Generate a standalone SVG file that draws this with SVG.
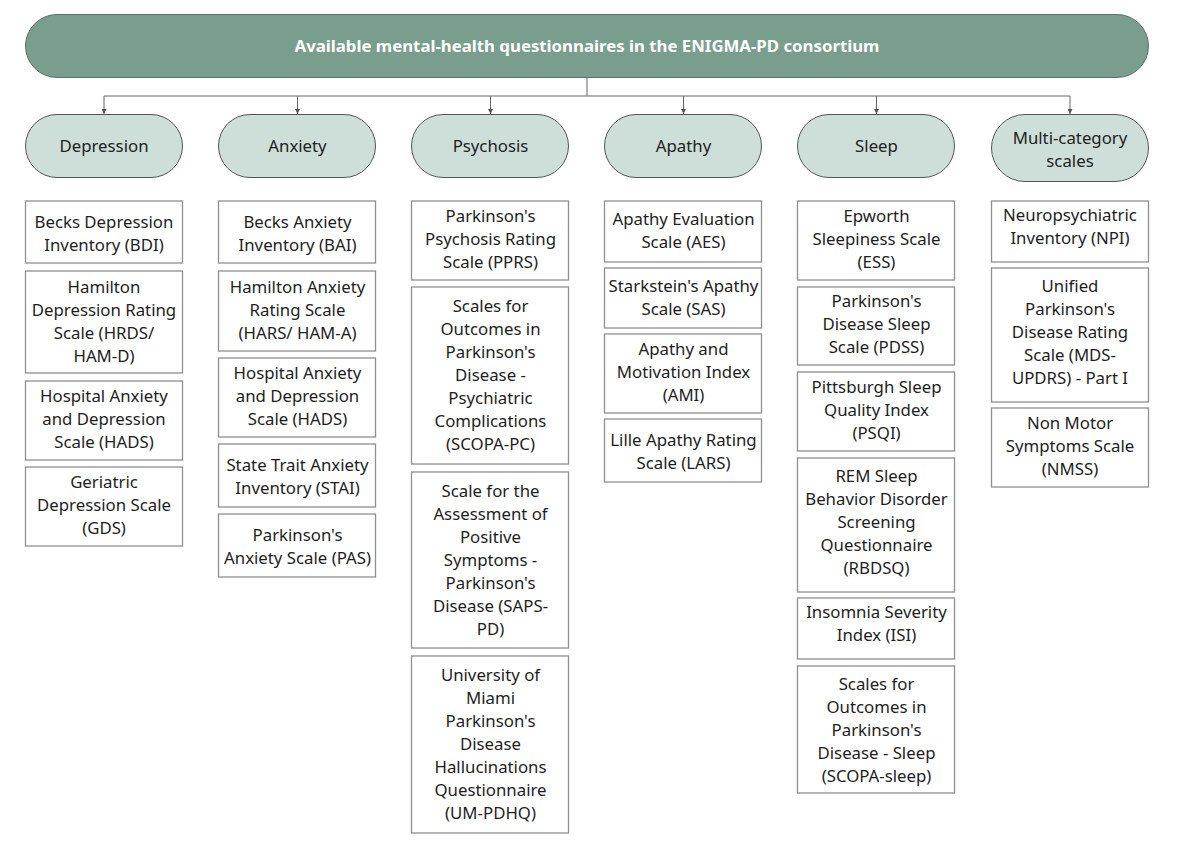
<svg xmlns="http://www.w3.org/2000/svg" width="1183" height="845" viewBox="0 0 1183 845">
  <defs>
    <marker id="arrow" viewBox="0 0 10 10" refX="10" refY="5" markerWidth="5" markerHeight="5" orient="auto" markerUnits="userSpaceOnUse">
      <path d="M0,0 L10,5 L0,10 z" fill="#555"/>
    </marker>
    <style>
      .title { fill: #7a9e8e; stroke: #5f6f68; stroke-width: 1; }
      .title-text { font-family: "Noto Sans", "Open Sans", sans-serif; font-size: 16.8px; font-weight: bold; fill: #ffffff; text-anchor: middle; }
      .cat { fill: #cddfd8; stroke: #555; stroke-width: 1; }
      .cat-text { font-family: "Noto Sans", "Open Sans", sans-serif; font-size: 16.8px; fill: #222; text-anchor: middle; }
      .item { fill: #ffffff; stroke: #8f8f8f; stroke-width: 1.3; }
      .item-text { font-family: "Noto Sans", "Open Sans", sans-serif; font-size: 16.8px; fill: #1e1e1e; text-anchor: middle; }
      .link { fill: none; stroke: #666; stroke-width: 1; }
    </style>
  </defs>
  <rect width="1183" height="845" fill="#ffffff"/>

  <!-- root -->
  <g id="root">
    <rect class="title" x="25.5" y="14.5" width="1123" height="63" rx="31.5" ry="31.5"/>
    <text class="title-text" x="587" y="52">Available mental-health questionnaires in the ENIGMA-PD consortium</text>
  </g>

  <!-- connectors from root to categories -->
  <g id="connectors">
    <path class="link" d="M587,77.5 V96 M104,96 H1070"/>
    <path class="link" d="M104,96 V114" marker-end="url(#arrow)"/>
    <path class="link" d="M297.5,96 V114" marker-end="url(#arrow)"/>
    <path class="link" d="M490.5,96 V114" marker-end="url(#arrow)"/>
    <path class="link" d="M683.5,96 V114" marker-end="url(#arrow)"/>
    <path class="link" d="M876.5,96 V114" marker-end="url(#arrow)"/>
    <path class="link" d="M1070,96 V114" marker-end="url(#arrow)"/>
  </g>

  <!-- categories -->
  <g id="cat-depression">
    <rect class="cat" x="25.5" y="114.5" width="157" height="63" rx="31.5"/>
    <text class="cat-text" x="104" y="152">Depression</text>
  </g>
  <g id="cat-anxiety">
    <rect class="cat" x="218.5" y="114.5" width="157" height="63" rx="31.5"/>
    <text class="cat-text" x="297.5" y="152">Anxiety</text>
  </g>
  <g id="cat-psychosis">
    <rect class="cat" x="411.5" y="114.5" width="157" height="63" rx="31.5"/>
    <text class="cat-text" x="490.5" y="152">Psychosis</text>
  </g>
  <g id="cat-apathy">
    <rect class="cat" x="604.5" y="114.5" width="157" height="63" rx="31.5"/>
    <text class="cat-text" x="683.5" y="152">Apathy</text>
  </g>
  <g id="cat-sleep">
    <rect class="cat" x="797.5" y="114.5" width="157" height="63" rx="31.5"/>
    <text class="cat-text" x="876.5" y="152">Sleep</text>
  </g>
  <g id="cat-multi">
    <rect class="cat" x="991.5" y="114.5" width="157" height="67" rx="33.5"/>
    <text class="cat-text" x="1070" y="144">Multi-category</text>
    <text class="cat-text" x="1070" y="167">scales</text>
  </g>

  <!-- Depression column -->
  <g id="bdi">
    <rect class="item" x="25.5" y="201" width="157" height="62"/>
    <text class="item-text" x="104" y="228">Becks Depression</text>
    <text class="item-text" x="104" y="251">Inventory (BDI)</text>
  </g>
  <g id="hrds">
    <rect class="item" x="25.5" y="271" width="157" height="102"/>
    <text class="item-text" x="104" y="293">Hamilton</text>
    <text class="item-text" x="104" y="316">Depression Rating</text>
    <text class="item-text" x="104" y="339">Scale (HRDS/</text>
    <text class="item-text" x="104" y="362">HAM-D)</text>
  </g>
  <g id="hads-dep">
    <rect class="item" x="25.5" y="381" width="157" height="79"/>
    <text class="item-text" x="104" y="402">Hospital Anxiety</text>
    <text class="item-text" x="104" y="425">and Depression</text>
    <text class="item-text" x="104" y="448">Scale (HADS)</text>
  </g>
  <g id="gds">
    <rect class="item" x="25.5" y="467" width="157" height="79"/>
    <text class="item-text" x="104" y="488">Geriatric</text>
    <text class="item-text" x="104" y="511">Depression Scale</text>
    <text class="item-text" x="104" y="534">(GDS)</text>
  </g>

  <!-- Anxiety column -->
  <g id="bai">
    <rect class="item" x="218.5" y="201" width="157" height="62"/>
    <text class="item-text" x="297.5" y="228">Becks Anxiety</text>
    <text class="item-text" x="297.5" y="251">Inventory (BAI)</text>
  </g>
  <g id="hars">
    <rect class="item" x="218.5" y="271" width="157" height="80"/>
    <text class="item-text" x="297.5" y="293">Hamilton Anxiety</text>
    <text class="item-text" x="297.5" y="316">Rating Scale</text>
    <text class="item-text" x="297.5" y="339">(HARS/ HAM-A)</text>
  </g>
  <g id="hads-anx">
    <rect class="item" x="218.5" y="358" width="157" height="79"/>
    <text class="item-text" x="297.5" y="379">Hospital Anxiety</text>
    <text class="item-text" x="297.5" y="402">and Depression</text>
    <text class="item-text" x="297.5" y="425">Scale (HADS)</text>
  </g>
  <g id="stai">
    <rect class="item" x="218.5" y="444" width="157" height="63"/>
    <text class="item-text" x="297.5" y="471">State Trait Anxiety</text>
    <text class="item-text" x="297.5" y="494">Inventory (STAI)</text>
  </g>
  <g id="pas">
    <rect class="item" x="218.5" y="514" width="157" height="63"/>
    <text class="item-text" x="297.5" y="541">Parkinson's</text>
    <text class="item-text" x="297.5" y="564">Anxiety Scale (PAS)</text>
  </g>

  <!-- Psychosis column -->
  <g id="pprs">
    <rect class="item" x="411.5" y="201" width="157" height="79"/>
    <text class="item-text" x="490.5" y="222">Parkinson's</text>
    <text class="item-text" x="490.5" y="245">Psychosis Rating</text>
    <text class="item-text" x="490.5" y="268">Scale (PPRS)</text>
  </g>
  <g id="scopa-pc">
    <rect class="item" x="411.5" y="287" width="157" height="177"/>
    <text class="item-text" x="490.5" y="312">Scales for</text>
    <text class="item-text" x="490.5" y="335">Outcomes in</text>
    <text class="item-text" x="490.5" y="358">Parkinson's</text>
    <text class="item-text" x="490.5" y="381">Disease -</text>
    <text class="item-text" x="490.5" y="404">Psychiatric</text>
    <text class="item-text" x="490.5" y="427">Complications</text>
    <text class="item-text" x="490.5" y="450">(SCOPA-PC)</text>
  </g>
  <g id="saps-pd">
    <rect class="item" x="411.5" y="472" width="157" height="176"/>
    <text class="item-text" x="490.5" y="497">Scale for the</text>
    <text class="item-text" x="490.5" y="520">Assessment of</text>
    <text class="item-text" x="490.5" y="543">Positive</text>
    <text class="item-text" x="490.5" y="566">Symptoms -</text>
    <text class="item-text" x="490.5" y="589">Parkinson's</text>
    <text class="item-text" x="490.5" y="612">Disease (SAPS-</text>
    <text class="item-text" x="490.5" y="635">PD)</text>
  </g>
  <g id="um-pdhq">
    <rect class="item" x="411.5" y="656" width="157" height="177"/>
    <text class="item-text" x="490.5" y="681">University of</text>
    <text class="item-text" x="490.5" y="704">Miami</text>
    <text class="item-text" x="490.5" y="727">Parkinson's</text>
    <text class="item-text" x="490.5" y="750">Disease</text>
    <text class="item-text" x="490.5" y="773">Hallucinations</text>
    <text class="item-text" x="490.5" y="796">Questionnaire</text>
    <text class="item-text" x="490.5" y="819">(UM-PDHQ)</text>
  </g>

  <!-- Apathy column -->
  <g id="aes">
    <rect class="item" x="604.5" y="201" width="157" height="61"/>
    <text class="item-text" x="683.5" y="225">Apathy Evaluation</text>
    <text class="item-text" x="683.5" y="248">Scale (AES)</text>
  </g>
  <g id="sas">
    <rect class="item" x="604.5" y="268" width="157" height="60"/>
    <text class="item-text" x="683.5" y="292">Starkstein's Apathy</text>
    <text class="item-text" x="683.5" y="315">Scale (SAS)</text>
  </g>
  <g id="ami">
    <rect class="item" x="604.5" y="334" width="157" height="79"/>
    <text class="item-text" x="683.5" y="355">Apathy and</text>
    <text class="item-text" x="683.5" y="378">Motivation Index</text>
    <text class="item-text" x="683.5" y="401">(AMI)</text>
  </g>
  <g id="lars">
    <rect class="item" x="604.5" y="419" width="157" height="63"/>
    <text class="item-text" x="683.5" y="446">Lille Apathy Rating</text>
    <text class="item-text" x="683.5" y="469">Scale (LARS)</text>
  </g>

  <!-- Sleep column -->
  <g id="ess">
    <rect class="item" x="797.5" y="201" width="157" height="79"/>
    <text class="item-text" x="876.5" y="222">Epworth</text>
    <text class="item-text" x="876.5" y="245">Sleepiness Scale</text>
    <text class="item-text" x="876.5" y="268">(ESS)</text>
  </g>
  <g id="pdss">
    <rect class="item" x="797.5" y="287" width="157" height="78"/>
    <text class="item-text" x="876.5" y="307">Parkinson's</text>
    <text class="item-text" x="876.5" y="330">Disease Sleep</text>
    <text class="item-text" x="876.5" y="353">Scale (PDSS)</text>
  </g>
  <g id="psqi">
    <rect class="item" x="797.5" y="372" width="157" height="79"/>
    <text class="item-text" x="876.5" y="393">Pittsburgh Sleep</text>
    <text class="item-text" x="876.5" y="416">Quality Index</text>
    <text class="item-text" x="876.5" y="439">(PSQI)</text>
  </g>
  <g id="rbdsq">
    <rect class="item" x="797.5" y="458" width="157" height="134"/>
    <text class="item-text" x="876.5" y="482">REM Sleep</text>
    <text class="item-text" x="876.5" y="505">Behavior Disorder</text>
    <text class="item-text" x="876.5" y="528">Screening</text>
    <text class="item-text" x="876.5" y="551">Questionnaire</text>
    <text class="item-text" x="876.5" y="574">(RBDSQ)</text>
  </g>
  <g id="isi">
    <rect class="item" x="797.5" y="598" width="157" height="61"/>
    <text class="item-text" x="876.5" y="618">Insomnia Severity</text>
    <text class="item-text" x="876.5" y="641">Index (ISI)</text>
  </g>
  <g id="scopa-sleep">
    <rect class="item" x="797.5" y="666" width="157" height="127"/>
    <text class="item-text" x="876.5" y="690">Scales for</text>
    <text class="item-text" x="876.5" y="713">Outcomes in</text>
    <text class="item-text" x="876.5" y="736">Parkinson's</text>
    <text class="item-text" x="876.5" y="759">Disease - Sleep</text>
    <text class="item-text" x="876.5" y="782">(SCOPA-sleep)</text>
  </g>

  <!-- Multi-category column -->
  <g id="npi">
    <rect class="item" x="991.5" y="201" width="157" height="61"/>
    <text class="item-text" x="1070" y="221">Neuropsychiatric</text>
    <text class="item-text" x="1070" y="244">Inventory (NPI)</text>
  </g>
  <g id="mds-updrs">
    <rect class="item" x="991.5" y="268" width="157" height="134"/>
    <text class="item-text" x="1070" y="292">Unified</text>
    <text class="item-text" x="1070" y="315">Parkinson's</text>
    <text class="item-text" x="1070" y="338">Disease Rating</text>
    <text class="item-text" x="1070" y="361">Scale (MDS-</text>
    <text class="item-text" x="1070" y="384">UPDRS) - Part I</text>
  </g>
  <g id="nmss">
    <rect class="item" x="991.5" y="408" width="157" height="79"/>
    <text class="item-text" x="1070" y="429">Non Motor</text>
    <text class="item-text" x="1070" y="452">Symptoms Scale</text>
    <text class="item-text" x="1070" y="475">(NMSS)</text>
  </g>
</svg>
